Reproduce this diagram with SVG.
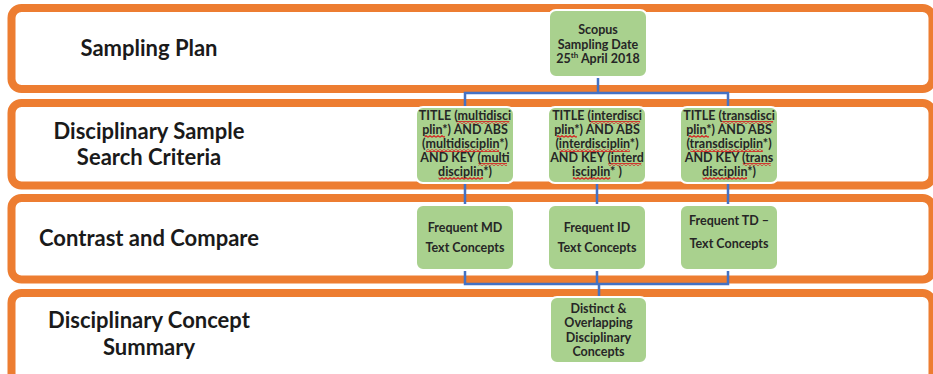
<svg xmlns="http://www.w3.org/2000/svg" width="933" height="374" viewBox="0 0 933 374">
  <defs>
    <!-- wavy red spell-check underline, tiled along a thin strip -->
    <pattern id="squiggle" patternUnits="userSpaceOnUse" x="0" y="0" width="4" height="3">
      <path d="M0 2.3 L2 0.7 L4 2.3" fill="none" stroke="#d62020" stroke-width="1.2"/>
    </pattern>
  </defs>
  <style>
    .band { fill: #ffffff; stroke: #ed7d31; stroke-width: 8; }
    .box { fill: #a9d18e; stroke: #ffffff; stroke-width: 2; }
    .lane { font-family: Lato, "Liberation Sans", sans-serif; font-weight: 700; font-size: 22px; fill: #1a1a1a; text-anchor: middle; }
    .lbl { font-family: Lato, "Liberation Sans", sans-serif; font-weight: 700; font-size: 12.5px; fill: #262626; text-anchor: middle; }
    .sq { fill: url(#squiggle); }
    .link { fill: none; stroke: #4472c4; stroke-width: 2.5; }
  </style>

  <!-- swim lanes -->
  <g id="lanes">
    <rect class="band" x="11.5" y="8" width="921" height="81" rx="10"/>
    <rect class="band" x="11.5" y="103" width="921" height="82.5" rx="10"/>
    <rect class="band" x="11.5" y="198" width="921" height="81.5" rx="10"/>
    <rect class="band" x="11.5" y="293" width="921" height="90" rx="10"/>
    <text class="lane" x="149" y="55.5">Sampling Plan</text>
    <text class="lane" x="149" y="138.5">Disciplinary Sample</text>
    <text class="lane" x="149" y="164.5">Search Criteria</text>
    <text class="lane" x="149" y="245.5">Contrast and Compare</text>
    <text class="lane" x="149" y="327.5">Disciplinary Concept</text>
    <text class="lane" x="149" y="354.5">Summary</text>
  </g>

  <!-- connectors -->
  <g id="connectors">
    <path class="link" d="M598 77 V93 M465 107 V93 H728 V107"/>
    <path class="link" d="M465 183 V205 M597 183 V205 M728 183 V205"/>
    <path class="link" d="M465 270 V284 H728 V270 M597 270 V284 M599 284 V297"/>
  </g>

  <g id="scopus">
    <rect class="box" x="549" y="10" width="98" height="67" rx="7"/>
    <text class="lbl" x="598" y="34">Scopus</text>
    <text class="lbl" x="598" y="48.5">Sampling Date</text>
    <text class="lbl" x="598" y="63">25<tspan font-size="8" dy="-5">th</tspan><tspan dy="5"> April 2018</tspan></text>
  </g>

  <g id="search-md">
    <rect class="box" x="416" y="107" width="98" height="76" rx="7"/>
    <g class="sq">
      <rect x="456.7" y="121" width="52.7" height="3"/>
      <rect x="424.6" y="135" width="20.3" height="3"/>
      <rect x="426.2" y="149" width="72.9" height="3"/>
      <rect x="478.5" y="163" width="28.5" height="3"/>
      <rect x="438.6" y="177" width="44.4" height="3"/>
    </g>
    <text class="lbl" x="465" y="120">TITLE (multidisci</text>
    <text class="lbl" x="465" y="134">plin*) AND ABS</text>
    <text class="lbl" x="465" y="148">(multidisciplin*)</text>
    <text class="lbl" x="465" y="162">AND KEY (multi</text>
    <text class="lbl" x="465" y="176">disciplin*)</text>
  </g>

  <g id="search-id">
    <rect class="box" x="548" y="107" width="98" height="76" rx="7"/>
    <g class="sq">
      <rect x="590" y="121" width="50.1" height="3"/>
      <rect x="556.6" y="135" width="20.3" height="3"/>
      <rect x="559.4" y="149" width="70.4" height="3"/>
      <rect x="608.3" y="163" width="33" height="3"/>
      <rect x="572.9" y="177" width="37.4" height="3"/>
    </g>
    <text class="lbl" x="597" y="120">TITLE (interdisci</text>
    <text class="lbl" x="597" y="134">plin*) AND ABS</text>
    <text class="lbl" x="597" y="148">(interdisciplin*)</text>
    <text class="lbl" x="597" y="162">AND KEY (interd</text>
    <text class="lbl" x="597" y="176">isciplin* )</text>
  </g>

  <g id="search-td">
    <rect class="box" x="680" y="107" width="98" height="76" rx="7"/>
    <g class="sq">
      <rect x="721" y="121" width="52.1" height="3"/>
      <rect x="688.6" y="135" width="20.3" height="3"/>
      <rect x="690.5" y="149" width="72.3" height="3"/>
      <rect x="742.8" y="163" width="27.9" height="3"/>
      <rect x="702.6" y="177" width="44.4" height="3"/>
    </g>
    <text class="lbl" x="729" y="120">TITLE (transdisci</text>
    <text class="lbl" x="729" y="134">plin*) AND ABS</text>
    <text class="lbl" x="729" y="148">(transdisciplin*)</text>
    <text class="lbl" x="729" y="162">AND KEY (trans</text>
    <text class="lbl" x="729" y="176">disciplin*)</text>
  </g>

  <g id="freq-md">
    <rect class="box" x="416" y="205" width="98" height="65" rx="7"/>
    <text class="lbl" x="465" y="231.5">Frequent MD</text>
    <text class="lbl" x="465" y="251.5">Text Concepts</text>
  </g>

  <g id="freq-id">
    <rect class="box" x="548" y="205" width="98" height="65" rx="7"/>
    <text class="lbl" x="597" y="231.5">Frequent ID</text>
    <text class="lbl" x="597" y="251.5">Text Concepts</text>
  </g>

  <g id="freq-td">
    <rect class="box" x="680" y="205" width="98" height="65" rx="7"/>
    <text class="lbl" x="729" y="225">Frequent TD –</text>
    <text class="lbl" x="729" y="248">Text Concepts</text>
  </g>

  <g id="summary">
    <rect class="box" x="550" y="297" width="97" height="66" rx="7"/>
    <text class="lbl" x="598.5" y="312.5">Distinct &amp;</text>
    <text class="lbl" x="598.5" y="327">Overlapping</text>
    <text class="lbl" x="598.5" y="341.5">Disciplinary</text>
    <text class="lbl" x="598.5" y="356">Concepts</text>
  </g>
</svg>
